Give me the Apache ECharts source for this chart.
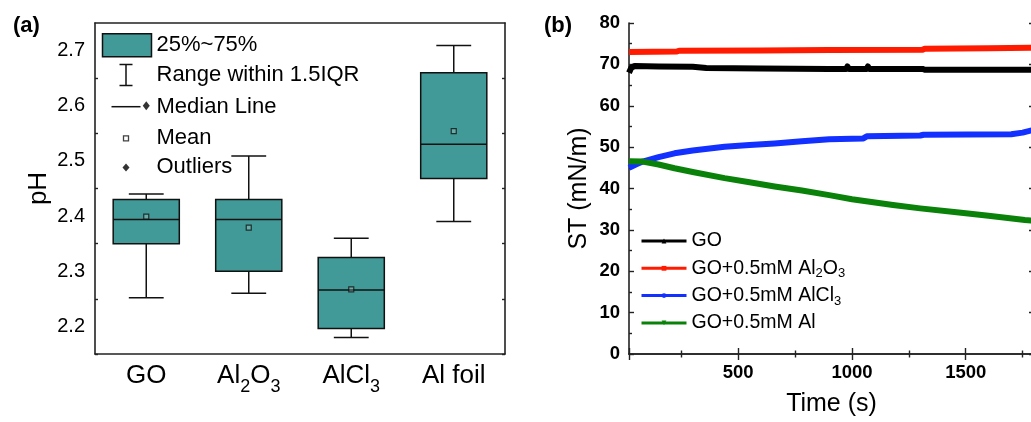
<!DOCTYPE html>
<html>
<head>
<meta charset="utf-8">
<title>pH box plot and surface tension</title>
<script src="https://cdn.jsdelivr.net/npm/echarts@6/dist/echarts.min.js"></script>
<style>
  html, body { margin: 0; padding: 0; background: #fff; }
  #main { width: 1031px; height: 422px; }
</style>
</head>
<body>
<div id="main"></div>
<script>
// ---- (a) pH box plot ----
var categories = ['GO', 'Al2O3', 'AlCl3', 'Al foil'];
var whiskerLow = [2.252, 2.26, 2.18, 2.39];
var q1 = [2.35, 2.30, 2.196, 2.468];
var medians = [2.394, 2.394, 2.266, 2.53];
var q3 = [2.43, 2.43, 2.325, 2.66];
var whiskerHigh = [2.44, 2.509, 2.36, 2.709];
var means = [2.399, 2.379, 2.267, 2.554];
var outlierCats = ['GO'];
var outlierVals = [2.6];

// ---- (b) surface tension vs time ----
var timeGO = [20, 30, 45, 150, 300, 360, 600, 900, 975, 980, 986, 1065, 1070, 1076, 1310, 1320, 1800];
var stGO = [68.0, 69.2, 69.6, 69.5, 69.4, 69.1, 69.0, 68.9, 68.9, 69.5, 68.9, 68.9, 69.5, 68.9, 68.9, 68.7, 68.7];
var timeAl2O3 = [20, 230, 240, 600, 900, 1310, 1320, 1600, 1800];
var stAl2O3 = [73.0, 73.1, 73.3, 73.35, 73.5, 73.55, 73.8, 73.9, 74.0];
var timeAlCl3 = [20, 50, 80, 150, 220, 300, 440, 550, 660, 780, 900, 1050, 1065, 1300, 1315, 1700, 1750, 1800];
var stAlCl3 = [45.0, 45.8, 46.5, 47.6, 48.5, 49.2, 50.1, 50.5, 50.9, 51.4, 51.9, 52.1, 52.6, 52.8, 53.0, 53.1, 53.5, 54.2];
var timeAl = [20, 80, 150, 220, 300, 440, 550, 660, 780, 900, 1000, 1180, 1300, 1470, 1600, 1760, 1800];
var stAl = [46.6, 46.5, 45.8, 44.9, 44.0, 42.5, 41.5, 40.5, 39.5, 38.4, 37.4, 36.0, 35.2, 34.2, 33.4, 32.4, 32.2];

var FONT = '"Liberation Sans", Arial, sans-serif';
var boxColor = '#419A97';
var edge = '#111';

function pairs(xs, ys){
  var res = [];
  for(var i=0;i<xs.length;i++){
    res.push([xs[i], ys[i]]);
  }
  return res;
}
function subs(txt){
  return txt.replace(/([A-Za-z])(\d)/g, '$1{s|$2}');
}

var boxData = [], whiskerData = [], medianData = [], meanData = [], outlierData = [];
for(var i=0;i<categories.length;i++){
  boxData.push([i, q1[i], q3[i]]);
  whiskerData.push([i, whiskerLow[i], q1[i], q3[i], whiskerHigh[i]]);
  medianData.push([i, medians[i]]);
  meanData.push([categories[i], means[i]]);
}
for(var i=0;i<outlierCats.length;i++){
  outlierData.push([outlierCats[i], outlierVals[i]]);
}

function renderBox(params, api){
  var x = api.value(0);
  var lo = api.coord([x, api.value(1)]);
  var hi = api.coord([x, api.value(2)]);
  var w = api.size([1, 0])[0] * 0.645;
  return {
    type: 'rect',
    shape: {x: lo[0] - w/2, y: hi[1], width: w, height: lo[1] - hi[1]},
    style: {fill: boxColor, stroke: edge, lineWidth: 1.5}
  };
}
function renderWhisker(params, api){
  var x = api.value(0);
  var low = api.coord([x, api.value(1)]);
  var b = api.coord([x, api.value(2)]);
  var t = api.coord([x, api.value(3)]);
  var high = api.coord([x, api.value(4)]);
  var cw = api.size([1, 0])[0] * 0.34 / 2;
  var st = {stroke: edge, lineWidth: 1.5};
  return {type: 'group', children: [
    {type: 'line', shape: {x1: low[0], y1: low[1], x2: b[0], y2: b[1]}, style: st},
    {type: 'line', shape: {x1: t[0], y1: t[1], x2: high[0], y2: high[1]}, style: st},
    {type: 'line', shape: {x1: low[0]-cw, y1: low[1], x2: low[0]+cw, y2: low[1]}, style: st},
    {type: 'line', shape: {x1: high[0]-cw, y1: high[1], x2: high[0]+cw, y2: high[1]}, style: st}
  ]};
}
function renderMedian(params, api){
  var p = api.coord([api.value(0), api.value(1)]);
  var w = api.size([1, 0])[0] * 0.645;
  return {
    type: 'line',
    shape: {x1: p[0] - w/2, y1: p[1], x2: p[0] + w/2, y2: p[1]},
    style: {stroke: edge, lineWidth: 1.5}
  };
}

var axisLine = {show: true, lineStyle: {color: '#222', width: 1.6}};
var tickStyle = {color: '#222', width: 1.4};

var chart = echarts.init(document.getElementById('main'), null, {renderer: 'canvas'});
chart.setOption({
  animation: false,
  backgroundColor: '#fff',
  textStyle: {fontFamily: FONT},
  graphic: [
    {type: 'text', left: 13, top: 15, style: {text: '(a)', font: 'bold 22px ' + FONT, fill: '#000'}},
    {type: 'text', left: 544, top: 15, style: {text: '(b)', font: 'bold 22px ' + FONT, fill: '#000'}}
  ],
  grid: [
    {left: 95, top: 23, width: 410, height: 331, outerBoundsMode: 'none'},
    {left: 629, top: 23, width: 405, height: 331, outerBoundsMode: 'none'}
  ],
  legend: [
    {
      orient: 'vertical', left: 100, top: 33, padding: 0,
      itemWidth: 49, itemHeight: 23, itemGap: 3.6,
      selectedMode: false,
      textStyle: {fontFamily: FONT, fontSize: 22, color: '#000'},
      data: [
        {name: '25%~75%', icon: 'rect', itemStyle: {color: boxColor, borderColor: edge, borderWidth: 1.5}},
        {name: 'Range within 1.5IQR', icon: 'path://M0,0M49,23M17,1L30,1M23.5,1L23.5,22M17,22L30,22',
          itemStyle: {color: 'none', borderColor: edge, borderWidth: 1.5}},
        {name: 'Median Line', icon: 'path://M0,0M49,23M9,11.5L38,11.5',
          itemStyle: {color: 'none', borderColor: edge, borderWidth: 1.5}},
        {name: 'Mean', icon: 'path://M0,0M49,23M21,9L26,9L26,14L21,14Z',
          itemStyle: {color: 'none', borderColor: edge, borderWidth: 1.3}},
        {name: 'Outliers', icon: 'path://M0,0M49,23M23.5,7.5L27,11.5L23.5,15.5L20,11.5Z',
          itemStyle: {color: '#000', borderColor: '#000', borderWidth: 0}}
      ]
    },
    {
      orient: 'vertical', left: 640, top: 229, padding: 0,
      itemWidth: 45, itemHeight: 6, itemGap: 3.3,
      selectedMode: false,
      lineStyle: {width: 3},
      textStyle: {
        fontFamily: FONT, fontSize: 19.5, lineHeight: 24, color: '#000',
        rich: {s: {fontFamily: FONT, fontSize: 13, lineHeight: 13, verticalAlign: 'bottom', color: '#000'}}
      },
      formatter: function(name){ return subs(name); },
      data: ['GO', 'GO+0.5mM Al2O3', 'GO+0.5mM AlCl3', 'GO+0.5mM Al']
    }
  ],
  xAxis: [
    {
      type: 'category', gridIndex: 0, data: categories, position: 'bottom',
      boundaryGap: true,
      axisLine: axisLine,
      axisTick: {inside: true, alignWithLabel: true, length: 7, lineStyle: tickStyle},
      axisLabel: {
        interval: 0, hideOverlap: false,
        margin: 2, fontSize: 26, lineHeight: 40, color: '#000', fontFamily: FONT,
        formatter: function(v){ return subs(v); },
        rich: {s: {fontFamily: FONT, fontSize: 18, lineHeight: 18, verticalAlign: 'bottom', color: '#000'}}
      },
      splitLine: {show: false}
    },
    {
      type: 'category', gridIndex: 0, data: categories, position: 'top',
      boundaryGap: true,
      axisLine: axisLine,
      axisTick: {inside: true, alignWithLabel: true, length: 7, lineStyle: tickStyle},
      axisLabel: {show: false},
      splitLine: {show: false}
    },
    {
      type: 'value', gridIndex: 1, position: 'bottom', min: 20, max: 1800, splitNumber: 4,
      name: 'Time (s)', nameLocation: 'middle', nameGap: 38,
      nameTextStyle: {fontSize: 25, color: '#000', fontFamily: FONT},
      axisLine: axisLine,
      axisTick: {inside: true, length: 6, lineStyle: tickStyle},
      minorTick: {show: true, splitNumber: 2, length: 3.5, lineStyle: tickStyle},
      axisLabel: {margin: 9, fontSize: 18.5, fontWeight: 'bold', color: '#000', fontFamily: FONT,
        showMinLabel: false, showMaxLabel: false,
        formatter: function(v){ return String(v); }},
      splitLine: {show: false}
    },
    {
      type: 'value', gridIndex: 1, position: 'top', min: 20, max: 1800, splitNumber: 4,
      axisLine: axisLine,
      axisTick: {inside: true, length: 6, lineStyle: tickStyle},
      minorTick: {show: true, splitNumber: 2, length: 3.5, lineStyle: tickStyle},
      axisLabel: {show: false},
      splitLine: {show: false}
    }
  ],
  yAxis: [
    {
      type: 'value', gridIndex: 0, position: 'left', min: 2.15, max: 2.75,
      name: 'pH', nameLocation: 'middle', nameGap: 43,
      nameTextStyle: {fontSize: 26, color: '#000', fontFamily: FONT},
      axisLine: axisLine,
      axisTick: {inside: true, length: 5, lineStyle: tickStyle},
      minorTick: {show: true, splitNumber: 2, length: 3, lineStyle: tickStyle},
      axisLabel: {margin: 10, fontSize: 20, color: '#000', fontFamily: FONT,
        showMinLabel: false, showMaxLabel: false,
        formatter: function(v){ return v.toFixed(1); }},
      splitLine: {show: false}
    },
    {
      type: 'value', gridIndex: 0, position: 'right', min: 2.15, max: 2.75,
      axisLine: axisLine,
      axisTick: {inside: true, length: 5, lineStyle: tickStyle},
      minorTick: {show: true, splitNumber: 2, length: 3, lineStyle: tickStyle},
      axisLabel: {show: false},
      splitLine: {show: false}
    },
    {
      type: 'value', gridIndex: 1, position: 'left', min: 0, max: 80, interval: 10,
      name: 'ST (mN/m)', nameLocation: 'middle', nameGap: 37,
      nameTextStyle: {fontSize: 25, color: '#000', fontFamily: FONT},
      axisLine: axisLine,
      axisTick: {inside: true, length: 5, lineStyle: tickStyle},
      minorTick: {show: true, splitNumber: 2, length: 3, lineStyle: tickStyle},
      axisLabel: {margin: 9, fontSize: 18.5, fontWeight: 'bold', color: '#000', fontFamily: FONT},
      splitLine: {show: false}
    },
    {
      type: 'value', gridIndex: 1, position: 'right', min: 0, max: 80, interval: 10,
      axisLine: axisLine,
      axisTick: {inside: true, length: 5, lineStyle: tickStyle},
      minorTick: {show: true, splitNumber: 2, length: 3, lineStyle: tickStyle},
      axisLabel: {show: false},
      splitLine: {show: false}
    }
  ],
  series: [
    {name: 'Range within 1.5IQR', type: 'custom', xAxisIndex: 0, yAxisIndex: 0,
      itemStyle: {color: edge}, renderItem: renderWhisker, data: whiskerData, z: 2},
    {name: '25%~75%', type: 'custom', xAxisIndex: 0, yAxisIndex: 0,
      itemStyle: {color: boxColor}, renderItem: renderBox, data: boxData, z: 3},
    {name: 'Median Line', type: 'custom', xAxisIndex: 0, yAxisIndex: 0,
      itemStyle: {color: edge}, renderItem: renderMedian, data: medianData, z: 4},
    {name: 'Mean', type: 'scatter', xAxisIndex: 0, yAxisIndex: 0,
      symbol: 'rect', symbolSize: 5,
      itemStyle: {color: 'rgba(255,255,255,0.25)', borderColor: '#111', borderWidth: 1.2},
      data: meanData, z: 5},
    {name: 'Outliers', type: 'scatter', xAxisIndex: 0, yAxisIndex: 0,
      symbol: 'diamond', symbolSize: [7, 9],
      itemStyle: {color: '#000'},
      data: outlierData, z: 5},

    {name: 'GO', type: 'line', xAxisIndex: 2, yAxisIndex: 2,
      symbol: 'triangle', showSymbol: false, color: '#000',
      lineStyle: {width: 6, join: 'round'}, data: pairs(timeGO, stGO)},
    {name: 'GO+0.5mM Al2O3', type: 'line', xAxisIndex: 2, yAxisIndex: 2,
      symbol: 'rect', showSymbol: false, color: '#FF1A00',
      lineStyle: {width: 6, join: 'round'}, data: pairs(timeAl2O3, stAl2O3)},
    {name: 'GO+0.5mM AlCl3', type: 'line', xAxisIndex: 2, yAxisIndex: 2,
      symbol: 'circle', showSymbol: false, color: '#1230FF',
      lineStyle: {width: 6, join: 'round'}, data: pairs(timeAlCl3, stAlCl3)},
    {name: 'GO+0.5mM Al', type: 'line', xAxisIndex: 2, yAxisIndex: 2,
      symbol: 'triangle', symbolRotate: 180, showSymbol: false, color: '#0A820A',
      lineStyle: {width: 6, join: 'round'}, data: pairs(timeAl, stAl)}
  ]
});
</script>
</body>
</html>
